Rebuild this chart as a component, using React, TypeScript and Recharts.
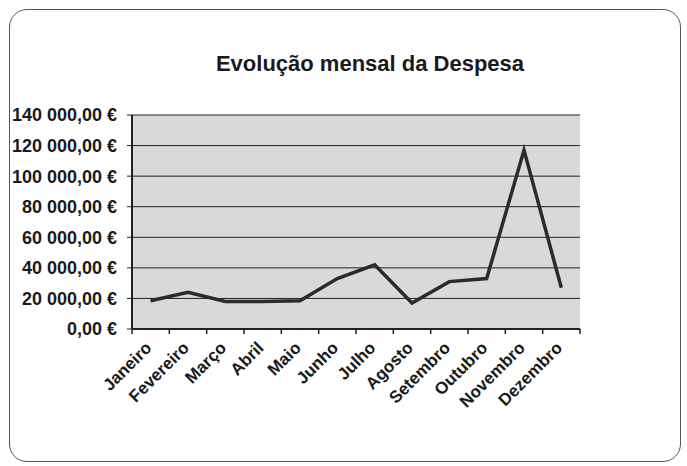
import React from 'react';
import {
  LineChart,
  Line,
  XAxis,
  YAxis,
  CartesianGrid } from
'recharts';

const months = [
'Janeiro', 'Fevereiro', 'Março', 'Abril', 'Maio', 'Junho',
'Julho', 'Agosto', 'Setembro', 'Outubro', 'Novembro', 'Dezembro'];

const despesa = [
18500, 24000, 18000, 18000, 18500, 33000,
42000, 17000, 31000, 33000, 117000, 27000];

const yTicks = [0, 20000, 40000, 60000, 80000, 100000, 120000, 140000];

const data = months.map((m, i) => ({ mes: m, despesa: despesa[i] }));

const W = 687;
const H = 466;
const M = { top: 115, right: 107, left: 0, bottom: 0 };
const Y_W = 132;
const X_H = 137;
const band = (W - M.left - M.right - Y_W) / months.length;

const font = '"Liberation Sans", Arial, sans-serif';

const euro = (v: number) =>
v.toString().replace(/\B(?=(\d{3})+(?!\d))/g, ' ') + ',00 €';

const MonthTick = ({ x, y, payload, index }: any) => {
  const left = x - band / 2;
  return (
    <g>
      <line x1={left} y1={y - 8} x2={left} y2={y - 3} stroke="#222" strokeWidth={1.5} />
      {index === months.length - 1 &&
      <line x1={left + band} y1={y - 8} x2={left + band} y2={y - 3} stroke="#222" strokeWidth={1.5} />
      }
      <text
        x={x + 2}
        y={y + 12}
        textAnchor="end"
        transform={`rotate(-45, ${x + 2}, ${y + 12})`}
        fontFamily={font}
        fontWeight="bold"
        fontSize={17}
        fill="#1a1a1a">
        
        {payload.value}
      </text>
    </g>);

};

export default function App() {
  return (
    <div style={{ position: 'fixed', left: 0, top: 0, width: W, height: H, background: '#fff' }}>
      <div
        style={{
          position: 'absolute', left: 9, top: 9, width: 672, height: 453,
          border: '1.5px solid #555', borderRadius: 18, boxSizing: 'border-box'
        }} />
      
      <div
        style={{
          position: 'absolute', left: 120, width: 500, top: 51, textAlign: 'center',
          fontFamily: font, fontWeight: 'bold', fontSize: 22, color: '#1a1a1a'
        }}>
        
        Evolução mensal da Despesa
      </div>
      <div style={{ position: 'absolute', left: 0, top: 0 }}>
        <LineChart width={W} height={H} data={data} margin={M}>
          <CartesianGrid
            vertical={false}
            fill="#d9d9d9"
            stroke="#222"
            strokeWidth={1}
            fillOpacity={1} />
          
          <XAxis
            dataKey="mes"
            scale="band"
            height={X_H}
            interval={0}
            tickLine={false}
            axisLine={{ stroke: '#222', strokeWidth: 2 }}
            tick={<MonthTick />} />
          
          <YAxis
            width={Y_W}
            domain={[0, 140000]}
            ticks={yTicks}
            interval={0}
            tickFormatter={euro}
            tickLine={{ stroke: '#222', strokeWidth: 1 }}
            tickSize={5}
            tickMargin={10}
            axisLine={{ stroke: '#222', strokeWidth: 2 }}
            tick={{ fontFamily: font, fontWeight: 'bold', fontSize: 18, fill: '#1a1a1a' }} />
          
          <YAxis
            yAxisId="r"
            orientation="right"
            width={0}
            tick={false}
            tickLine={false}
            axisLine={{ stroke: '#555', strokeWidth: 1.5 }} />
          
          <Line
            type="linear"
            dataKey="despesa"
            stroke="#2b2b2b"
            strokeWidth={3.5}
            dot={false}
            isAnimationActive={false} />
          
        </LineChart>
      </div>
    </div>);

}
